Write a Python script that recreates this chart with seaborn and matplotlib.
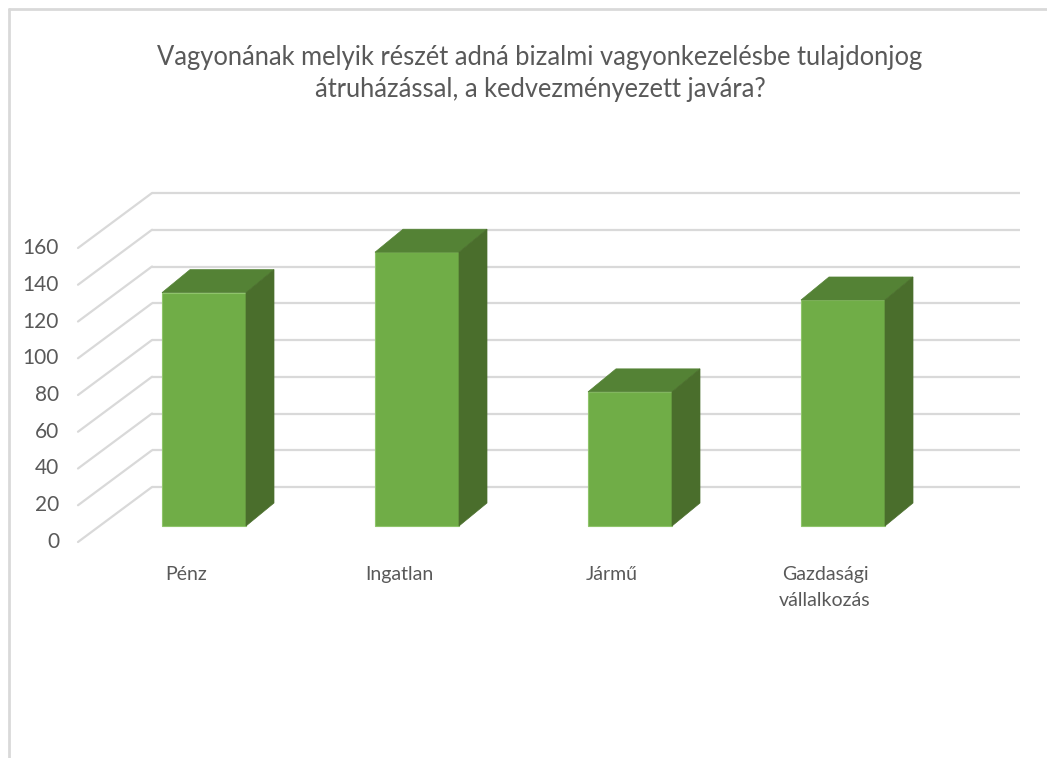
import matplotlib
matplotlib.use("Agg")
import matplotlib.pyplot as plt
from matplotlib.patches import Polygon
from matplotlib.lines import Line2D
import seaborn as sns
import pandas as pd

# ---- data ----
categories = ["Pénz", "Ingatlan", "Jármű", "Gazdasági\nvállalkozás"]
values = [127, 149, 73, 123]
y_ticks = [0, 20, 40, 60, 80, 100, 120, 140, 160]
title = ("Vagyonának melyik részét adná bizalmi vagyonkezelésbe tulajdonjog\n"
         "átruházással, a kedvezményezett javára?")

# ---- style ----
FRONT = "#70AD47"
TOP = "#548235"
SIDE = "#4A6E2C"
GRID = "#D9D9D9"
TEXT = "#595959"

W, H = 1047, 758
sns.set_theme(style="white")
plt.rcParams["font.family"] = ["Lato", "DejaVu Sans"]

fig = plt.figure(figsize=(W / 100, H / 100), dpi=100)
ax = fig.add_axes([0, 0, 1, 1])

# layout (pixel geometry of the pseudo-3D scene)
PX_CAT = 213.0      # px per category
PX_UNIT = 1.8375    # px per value unit
X0, Y0 = 204, 526   # pixel of category 0 / value 0 on bar plane
BAR_W = 84 / PX_CAT
DEPTH = (28, 23)    # bar depth offset in px (right, up)
WALL = (52, 39)     # bar plane -> back wall offset
FRONT_OFF = (-22, -16)  # bar plane -> front edge offset
WALL_PLANE_X = 100
WALL_RIGHT = 1020

def dxu(px):
    return px / PX_CAT

def dyu(px):
    return px / PX_UNIT

df = pd.DataFrame({"cat": categories, "val": values})
sns.barplot(data=df, x="cat", y="val", color=FRONT, width=BAR_W, ax=ax,
            saturation=1, edgecolor="#8FC46B", linewidth=0.8, zorder=3)

ax.set_xlim(-X0 / PX_CAT, (W - X0) / PX_CAT)
ax.set_ylim((Y0 - H) / PX_UNIT, Y0 / PX_UNIT)
ax.axis("off")

# back wall + left wall gridlines, value labels
x_wall_plane = (WALL_PLANE_X - X0) / PX_CAT
xb = x_wall_plane + dxu(WALL[0])
xf = x_wall_plane + dxu(FRONT_OFF[0])
xr = (WALL_RIGHT - X0) / PX_CAT
for v in y_ticks:
    yb = v + dyu(WALL[1])
    yf = v + dyu(FRONT_OFF[1])
    ax.plot([xb, xr], [yb, yb], color=GRID, lw=1.6, zorder=1,
            solid_capstyle="butt")
    ax.plot([xf, xb], [yf, yb], color=GRID, lw=1.6, zorder=1)
    ax.text(xf - dxu(19), yf, str(v), ha="right", va="center",
            fontsize=15, color=TEXT)

# 3D faces for each bar
ddx, ddy = dxu(DEPTH[0]), dyu(DEPTH[1])
for p in ax.patches[:len(values)]:
    x, w, h = p.get_x(), p.get_width(), p.get_height()
    top = Polygon([(x, h), (x + w, h), (x + w + ddx, h + ddy), (x + ddx, h + ddy)],
                  closed=True, facecolor=TOP, edgecolor=TOP, lw=0.5, zorder=3)
    side = Polygon([(x + w, 0), (x + w + ddx, ddy), (x + w + ddx, h + ddy), (x + w, h)],
                   closed=True, facecolor=SIDE, edgecolor=SIDE, lw=0.5, zorder=3)
    ax.add_patch(top)
    ax.add_patch(side)

# category labels
label_y = (Y0 - 566) / PX_UNIT
for i, c in enumerate(categories):
    ax.text(i - dxu(18), label_y, c, ha="center", va="top",
            fontsize=14, color=TEXT, linespacing=1.65, multialignment="center")

fig.text(540 / W, 1 - 73 / H, title, ha="center", va="center", fontsize=18.4,
         color=TEXT, linespacing=1.35)

# chart border
fig.add_artist(Line2D([9 / W, 9 / W], [0, 1 - 9 / H], color=GRID, lw=2,
                      transform=fig.transFigure))
fig.add_artist(Line2D([9 / W, 1], [1 - 9 / H, 1 - 9 / H], color=GRID, lw=2,
                      transform=fig.transFigure))

fig.savefig("out.png", dpi=100, facecolor="white")
